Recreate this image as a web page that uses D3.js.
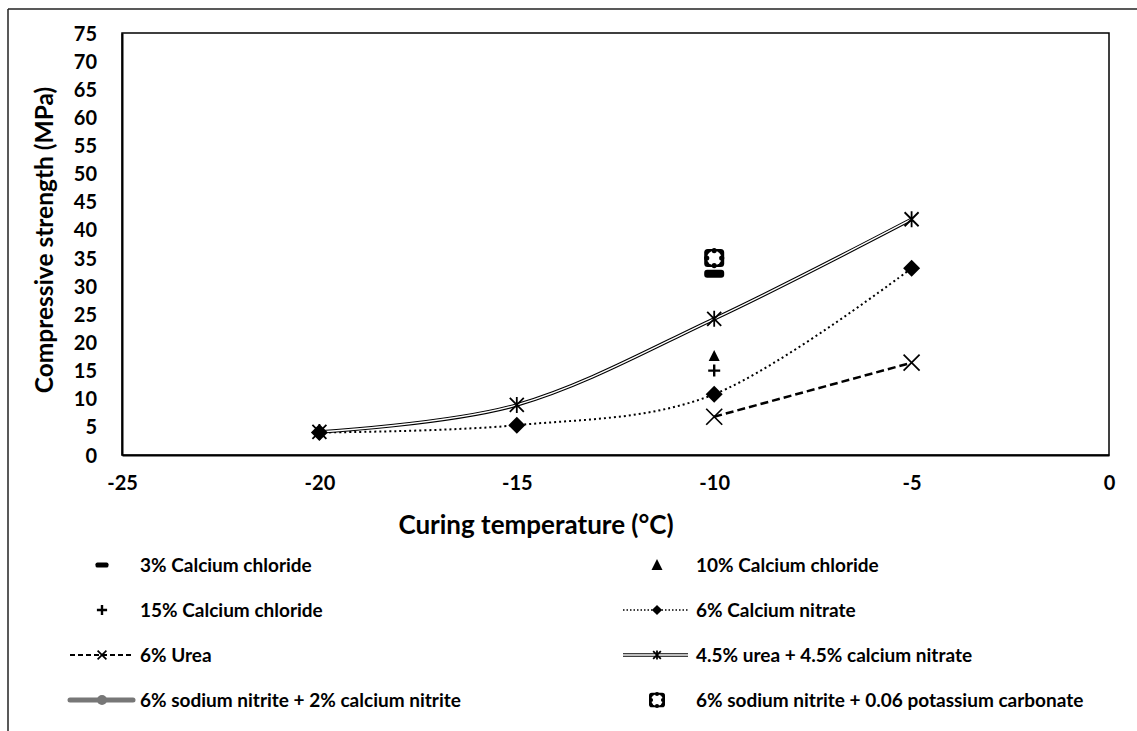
<!DOCTYPE html>
<html>
<head>
<meta charset="utf-8">
<script src="https://cdn.jsdelivr.net/npm/d3@7"></script>
<style>
  body { margin: 0; background: #fff; }
  text { font-family: Lato, "Open Sans", sans-serif; font-weight: bold; fill: #000; }
</style>
</head>
<body>
<svg id="chart" width="1137" height="731"></svg>
<script>
// data
var xTicks = [-25, -20, -15, -10, -5, 0];
var yTicks = [0, 5, 10, 15, 20, 25, 30, 35, 40, 45, 50, 55, 60, 65, 70, 75];

var cacl3 = [{x: -10, y: 32.2}];
var cacl10 = [{x: -10, y: 17.6}];
var cacl15 = [{x: -10, y: 15}];
var caNitrate = [{x: -20, y: 4}, {x: -15, y: 5.3}, {x: -10, y: 10.8}, {x: -5, y: 33.2}];
var urea = [{x: -10, y: 6.8}, {x: -5, y: 16.4}];
var ureaCaNitrate = [{x: -20, y: 4.1}, {x: -15, y: 8.9}, {x: -10, y: 24.2}, {x: -5, y: 41.9}];
var naNitriteCaNitrite = [];
var naNitriteK2co3 = [{x: -10, y: 35}];

var legendNames = [
  "3% Calcium chloride", "10% Calcium chloride",
  "15% Calcium chloride", "6% Calcium nitrate",
  "6% Urea", "4.5% urea + 4.5% calcium nitrate",
  "6% sodium nitrite + 2% calcium nitrite", "6% sodium nitrite + 0.06 potassium carbonate"
];

var svg = d3.select("#chart");
var margin = {left: 122, top: 33, right: 1109, bottom: 455};

var x = d3.scaleLinear().domain([-25, 0]).range([margin.left, margin.right]);
var y = d3.scaleLinear().domain([0, 75]).range([margin.bottom, margin.top]);

// outer frame (only top and left show)
svg.append("line").attr("x1", 8).attr("x2", 1137).attr("y1", 9).attr("y2", 9)
  .attr("stroke", "#222").attr("stroke-width", 1.5);
svg.append("line").attr("x1", 8).attr("x2", 8).attr("y1", 9).attr("y2", 731)
  .attr("stroke", "#222").attr("stroke-width", 1.5);

// plot frame
svg.append("rect")
  .attr("x", margin.left).attr("y", margin.top)
  .attr("width", margin.right - margin.left).attr("height", margin.bottom - margin.top)
  .attr("fill", "none").attr("stroke", "#000").attr("stroke-width", 1.5);

var xAxis = svg.append("g").attr("transform", "translate(0," + margin.bottom + ")")
  .call(d3.axisBottom(x).tickValues(xTicks).tickSize(0).tickPadding(35).tickFormat(function(d){ return d; }));
var yAxis = svg.append("g").attr("transform", "translate(" + margin.left + ",0)")
  .call(d3.axisLeft(y).tickValues(yTicks).tickSize(0).tickPadding(25));
[xAxis, yAxis].forEach(function(a){
  a.select(".domain").attr("stroke", "#000").attr("stroke-width", 2);
  a.selectAll("text").style("font-size", "20px").style("font-family", "Lato, sans-serif").style("font-weight", "bold");
});
yAxis.selectAll("text").attr("dy", "0.35em");
xAxis.selectAll("text").attr("dy", "0em");

svg.append("text").attr("x", 536).attr("y", 525).attr("dy", "0.35em")
  .attr("text-anchor", "middle").style("font-size", "26px").text("Curing temperature (°C)");
svg.append("text").attr("transform", "translate(44,240) rotate(-90)").attr("dy", "0.35em")
  .attr("text-anchor", "middle").style("font-size", "24.5px").text("Compressive strength (MPa)");

var line = d3.line().x(function(d){ return x(d.x); }).y(function(d){ return y(d.y); })
  .curve(d3.curveCardinal.tension(0));

// marker drawing
function drawMarker(g, type, s) {
  s = s || 1;
  if (type == "dash") {
    g.append("rect").attr("x", -10 * s).attr("y", -4 * s).attr("width", 20 * s).attr("height", 8 * s)
      .attr("rx", 3 * s).attr("fill", "#000");
  } else if (type == "triangle") {
    g.append("path").attr("d", "M0," + (-6 * s) + "L" + (5.5 * s) + "," + (5 * s) + "L" + (-5.5 * s) + "," + (5 * s) + "Z")
      .attr("fill", "#000");
  } else if (type == "plus") {
    g.append("path").attr("d", "M" + (-6 * s) + ",0H" + (6 * s) + "M0," + (-6 * s) + "V" + (6 * s))
      .attr("stroke", "#000").attr("stroke-width", 2.4);
  } else if (type == "diamond") {
    g.append("path").attr("d", "M0," + (-8.5 * s) + "L" + (8.5 * s) + ",0L0," + (8.5 * s) + "L" + (-8.5 * s) + ",0Z")
      .attr("fill", "#000");
  } else if (type == "x") {
    g.append("path").attr("d", "M" + (-8 * s) + "," + (-8 * s) + "L" + (8 * s) + "," + (8 * s) + "M" + (8 * s) + "," + (-8 * s) + "L" + (-8 * s) + "," + (8 * s))
      .attr("stroke", "#000").attr("stroke-width", 1.7);
  } else if (type == "asterisk") {
    g.append("path").attr("d", "M" + (-7 * s) + "," + (-7 * s) + "L" + (7 * s) + "," + (7 * s) + "M" + (7 * s) + "," + (-7 * s) + "L" + (-7 * s) + "," + (7 * s) + "M0," + (-8 * s) + "V" + (8 * s))
      .attr("stroke", "#000").attr("stroke-width", 1.8);
  } else if (type == "circle") {
    g.append("circle").attr("r", 5 * s).attr("fill", "#777");
  } else if (type == "blob") {
    g.append("rect").attr("x", -10 * s).attr("y", -9 * s).attr("width", 20 * s).attr("height", 18 * s)
      .attr("rx", 3.5 * s).attr("fill", "#000");
    g.append("circle").attr("r", 7.3 * s).attr("fill", "#fff");
    [[0, -7.5], [0, 7.5], [-7.5, 0], [7.5, 0]].forEach(function(p){
      g.append("circle").attr("cx", p[0] * s).attr("cy", p[1] * s).attr("r", 2.6 * s).attr("fill", "#000");
    });
  }
}

var series = [
  {data: cacl3, marker: "dash", line: null},
  {data: cacl10, marker: "triangle", line: null},
  {data: cacl15, marker: "plus", line: null},
  {data: caNitrate, marker: "diamond", line: "dotted"},
  {data: urea, marker: "x", line: "dashed"},
  {data: ureaCaNitrate, marker: "asterisk", line: "double"},
  {data: naNitriteCaNitrite, marker: "circle", line: "gray"},
  {data: naNitriteK2co3, marker: "blob", line: null}
];

function styleLine(sel, kind, small) {
  if (kind == "dotted") {
    sel.attr("stroke", "#000").attr("stroke-width", small ? 1.5 : 2).attr("stroke-dasharray", small ? "1.5,2" : "2,3");
  } else if (kind == "dashed") {
    sel.attr("stroke", "#000").attr("stroke-width", small ? 2 : 2.5).attr("stroke-dasharray", small ? "5,3" : "8,4");
  } else if (kind == "gray") {
    sel.attr("stroke", "#777").attr("stroke-width", 5).attr("stroke-linecap", "round");
  }
}

function drawLine(g, pathD, kind, small) {
  if (kind == "double") {
    g.append("path").attr("d", pathD).attr("fill", "none").attr("stroke", "#000").attr("stroke-width", 3.6);
    g.append("path").attr("d", pathD).attr("fill", "none").attr("stroke", "#fff").attr("stroke-width", 1.4);
  } else {
    g.append("path").attr("d", pathD).attr("fill", "none").call(styleLine, kind, small);
  }
}

var plot = svg.append("g");
series.forEach(function(s){
  if (s.line && s.data.length > 1) drawLine(plot, line(s.data), s.line, false);
});
series.forEach(function(s){
  s.data.forEach(function(d){
    var g = plot.append("g").attr("transform", "translate(" + x(d.x) + "," + y(d.y) + ")");
    drawMarker(g, s.marker, 1);
  });
});

// legend
var legRowY = [565, 610, 655, 700];
var legCols = [{sym: 102, text: 140, l0: 70, l1: 133}, {sym: 657, text: 696, l0: 623, l1: 688}];
var legScale = [0.65, 1, 0.85, 0.6, 0.55, 0.55, 1, 0.8];
series.forEach(function(s, i){
  var col = legCols[i % 2], ry = legRowY[Math.floor(i / 2)];
  var lg = svg.append("g");
  if (s.line) drawLine(lg, "M" + col.l0 + "," + ry + "H" + col.l1, s.line, true);
  var mg = lg.append("g").attr("transform", "translate(" + col.sym + "," + ry + ")");
  drawMarker(mg, s.marker, legScale[i]);
  lg.append("text").attr("x", col.text).attr("y", ry).attr("dy", "0.35em")
    .style("font-size", "19px").text(legendNames[i]);
});
</script>
</body>
</html>
